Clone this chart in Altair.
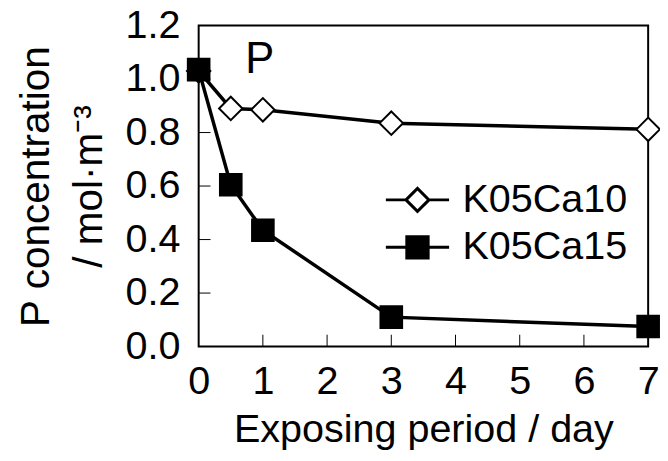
import altair as alt
import pandas as pd

# ---- data ----
days = [0, 0.5, 1, 3, 7]
k05ca10 = [1.03, 0.89, 0.885, 0.835, 0.812]
k05ca15 = [1.035, 0.605, 0.435, 0.11, 0.075]
series_names = ["K05Ca10", "K05Ca15"]
x_ticks = [0, 1, 2, 3, 4, 5, 6, 7]
y_ticks = [0.0, 0.2, 0.4, 0.6, 0.8, 1.0, 1.2]
x_inner_ticks = [1, 2, 3, 4, 5, 6]
y_inner_ticks = [0.2, 0.4, 0.6, 0.8, 1.0]
panel_label = ["P"]
panel_label_x = [0.95]
panel_label_y = [1.07]

FONT = "Liberation Sans"
W, H = 455, 325

rows = []
for name, vals in zip(series_names, [k05ca10, k05ca15]):
    for d, v in zip(days, vals):
        rows.append({"day": d, "conc": v, "series": name})
df = pd.DataFrame(rows)

xs = alt.Scale(domain=[0, 7], nice=False, zero=False)
ys = alt.Scale(domain=[0, 1.2], nice=False, zero=False)

x_axis = alt.Axis(values=x_ticks, format="d", ticks=False, tickSize=0, domain=False, grid=False,
                  labelFont=FONT, labelFontSize=40, labelColor="black", labelPadding=15,
                  labelFlush=False, labelOverlap=False, labelBound=False,
                  title="Exposing period / day", titleFont=FONT, titleFontSize=40,
                  titleFontWeight="normal", titleColor="black", titlePadding=9)
y_axis = alt.Axis(values=y_ticks, format=".1f", ticks=False, tickSize=0, domain=False, grid=False,
                  labelFont=FONT, labelFontSize=40, labelColor="black", labelPadding=19,
                  labelFlush=False, labelOverlap=False, labelBound=False,
                  title=["P concentration", "/ mol·m⁻³"], titleFont=FONT, titleFontSize=41,
                  titleFontWeight="normal", titleColor="black", titlePadding=15,
                  titleLineHeight=53)

base = alt.Chart(df)

lines = base.mark_line(color="black", strokeWidth=3.5).encode(
    x=alt.X("day:Q", scale=xs, axis=x_axis),
    y=alt.Y("conc:Q", scale=ys, axis=y_axis),
    detail="series:N",
)

points = base.mark_point(filled=True, stroke="black", strokeWidth=2, opacity=1).encode(
    x=alt.X("day:Q", scale=xs),
    y=alt.Y("conc:Q", scale=ys),
    shape=alt.Shape("series:N", scale=alt.Scale(domain=series_names, range=["diamond", "square"]), legend=None),
    fill=alt.Fill("series:N", scale=alt.Scale(domain=series_names, range=["white", "black"]), legend=None),
    size=alt.Size("series:N", scale=alt.Scale(domain=series_names, range=[560, 480]), legend=None),
)

# legend symbols: line stub + marker, unit = 20 px (symbolSize 1600)
diamond_leg = "M-1.6,0L-0.58,0M0.58,0L1.6,0M-0.58,0L0,-0.58L0.58,0L0,0.58Z"
square_leg = "M-1.6,0L-0.54,0M0.54,0L1.6,0M-0.54,-0.54L0.54,-0.54L0.54,0.54L-0.54,0.54Z"


def make_legend():
    return alt.Legend(title=None, orient="none", legendX=200, legendY=155,
                      symbolSize=1600, symbolStrokeWidth=3, symbolStrokeColor="black",
                      symbolOpacity=1,
                      labelFont=FONT, labelFontSize=40, labelColor="black", labelLimit=400,
                      labelOffset=24, rowPadding=6, padding=0)


legend_layer = base.transform_filter("false").mark_point(filled=True, strokeWidth=3, opacity=1).encode(
    x=alt.X("day:Q", scale=xs),
    y=alt.Y("conc:Q", scale=ys),
    shape=alt.Shape("series:N", scale=alt.Scale(domain=series_names, range=[diamond_leg, square_leg]),
                    legend=make_legend()),
    fill=alt.Fill("series:N", scale=alt.Scale(domain=series_names, range=["white", "black"]),
                  legend=make_legend()),
    stroke=alt.Stroke("series:N", scale=alt.Scale(domain=series_names, range=["black", "black"]),
                      legend=make_legend()),
)

ticks_x = alt.Chart(pd.DataFrame({"v": x_inner_ticks})).mark_rule(color="black", strokeWidth=1).encode(
    x=alt.X("v:Q", scale=xs),
    y=alt.value(H),
    y2=alt.value(H - 12),
)
ticks_y = alt.Chart(pd.DataFrame({"v": y_inner_ticks})).mark_rule(color="black", strokeWidth=1).encode(
    y=alt.Y("v:Q", scale=ys),
    x=alt.value(0),
    x2=alt.value(12),
)

label = alt.Chart(pd.DataFrame({"t": panel_label, "x": panel_label_x, "y": panel_label_y})).mark_text(
    font=FONT, fontSize=44, color="black", align="center", baseline="middle"
).encode(
    x=alt.X("x:Q", scale=xs),
    y=alt.Y("y:Q", scale=ys),
    text="t:N",
)

chart = alt.layer(ticks_x, ticks_y, lines, points, legend_layer, label).resolve_scale(
    shape="independent", fill="independent", size="independent", stroke="independent"
).properties(
    width=W, height=H,
    autosize=alt.AutoSizeParams(type="none"),
    padding={"left": 193, "top": 15, "right": 12, "bottom": 105},
    background="white",
).configure_view(stroke="black", strokeWidth=2)

chart.save("out.html", embed_options={"renderer": "svg", "actions": False})
